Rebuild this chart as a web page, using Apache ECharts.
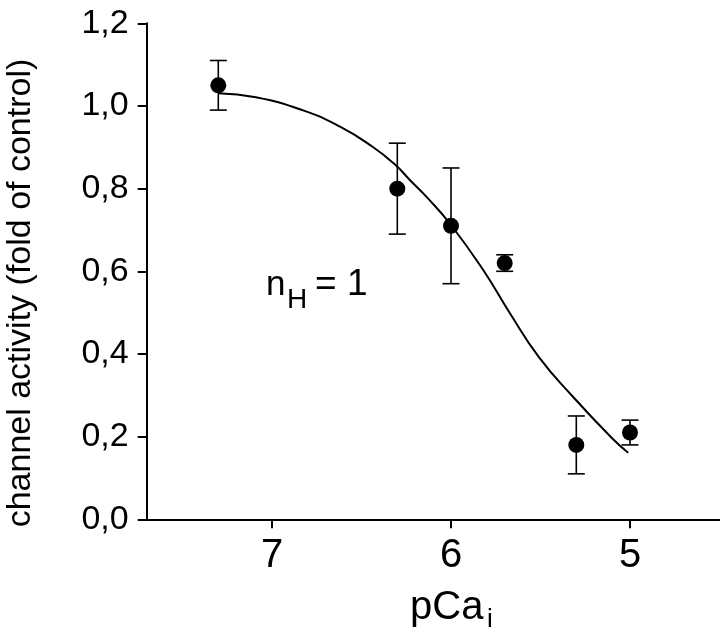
<!DOCTYPE html>
<html>
<head>
<meta charset="utf-8">
<script src="https://cdn.jsdelivr.net/npm/echarts@6/dist/echarts.min.js"></script>
<style>
html,body{margin:0;padding:0;background:#fff;}
#chart{width:720px;height:636px;}
</style>
</head>
<body>
<div id="chart"></div>
<script>
// Measured data points (pCa_i, channel activity, error bar low/high)
const pCa = [7.3, 6.3, 6.0, 5.7, 5.3, 5.0];
const activity = [1.05, 0.80, 0.71, 0.62, 0.18, 0.21];
const errLow = [0.99, 0.69, 0.57, 0.60, 0.11, 0.18];
const errHigh = [1.11, 0.91, 0.85, 0.64, 0.25, 0.24];

// Fitted curve (nH = 1)
const fitX = [7.30, 7.09, 6.83, 6.62, 6.44, 6.31, 6.23, 6.13, 6.00, 5.82, 5.67, 5.51, 5.32, 5.10, 5.01];
const fitY = [1.031, 1.021, 0.990, 0.950, 0.902, 0.857, 0.821, 0.777, 0.712, 0.603, 0.498, 0.393, 0.297, 0.196, 0.161];

// Tick labels
const xTicks = [7, 6, 5];
const yTicks = [0, 0.2, 0.4, 0.6, 0.8, 1.0, 1.2];

const FONT = '"Liberation Sans", Arial, Helvetica, sans-serif';

const chart = echarts.init(document.getElementById('chart'), null, {renderer: 'canvas'});

const pointData = pCa.map((x, i) => [x, activity[i]]);
const errData = pCa.map((x, i) => [x, errLow[i], errHigh[i]]);
const fitData = fitX.map((x, i) => [x, fitY[i]]);

const option = {
  backgroundColor: '#ffffff',
  animation: false,
  grid: {left: 146.7, right: 0.5, top: 23.3, bottom: 116.7},
  xAxis: {
    type: 'value',
    inverse: true,
    min: 4.5,
    max: 7.7,
    splitLine: {show: false},
    axisLine: {show: true, onZero: false, lineStyle: {color: '#000', width: 2}},
    axisTick: {show: true, inside: false, length: 9, lineStyle: {color: '#000', width: 2}, customValues: xTicks},
    axisLabel: {
      show: true, margin: 17, color: '#000', fontSize: 40, fontFamily: FONT,
      customValues: xTicks,
      formatter: v => String(v)
    }
  },
  yAxis: {
    type: 'value',
    min: 0,
    max: 1.2,
    interval: 0.2,
    splitLine: {show: false},
    axisLine: {show: true, onZero: false, lineStyle: {color: '#000', width: 2}},
    axisTick: {show: true, inside: false, length: 9, lineStyle: {color: '#000', width: 2}},
    axisLabel: {
      show: true, margin: 18, color: '#000', fontSize: 34, fontFamily: FONT,
      customValues: yTicks,
      formatter: v => v.toFixed(1).replace('.', ',')
    }
  },
  series: [
    {
      type: 'custom',
      name: 'error',
      data: errData,
      encode: {x: 0, y: [1, 2]},
      z: 2,
      renderItem: function (params, api) {
        const x = api.value(0);
        const lo = api.coord([x, api.value(1)]);
        const hi = api.coord([x, api.value(2)]);
        const hw = 8.5;
        const style = {stroke: '#000', lineWidth: 1.6};
        return {
          type: 'group',
          children: [
            {type: 'line', shape: {x1: lo[0], y1: lo[1], x2: hi[0], y2: hi[1]}, style: style},
            {type: 'line', shape: {x1: lo[0] - hw, y1: lo[1], x2: lo[0] + hw, y2: lo[1]}, style: style},
            {type: 'line', shape: {x1: hi[0] - hw, y1: hi[1], x2: hi[0] + hw, y2: hi[1]}, style: style}
          ]
        };
      }
    },
    {
      type: 'line',
      name: 'fit',
      data: fitData,
      smooth: 0.5,
      showSymbol: false,
      symbol: 'none',
      lineStyle: {color: '#000', width: 2},
      z: 3
    },
    {
      type: 'scatter',
      name: 'data',
      data: pointData,
      symbol: 'circle',
      symbolSize: 16,
      itemStyle: {color: '#000', opacity: 1},
      z: 4
    }
  ],
  graphic: [
    {
      type: 'text',
      x: 21, y: 293,
      rotation: Math.PI / 2,
      style: {
        text: 'channel activity (fold of control)',
        font: '34px ' + FONT,
        fill: '#000',
        align: 'center',
        verticalAlign: 'middle'
      }
    },
    {
      type: 'text', x: 410, y: 608,
      style: {text: 'pCa', font: '40px ' + FONT, fill: '#000', align: 'left', verticalAlign: 'middle'}
    },
    {
      type: 'text', x: 487, y: 620,
      style: {text: 'i', font: '26px ' + FONT, fill: '#000', align: 'left', verticalAlign: 'middle'}
    },
    {
      type: 'text', x: 266, y: 285,
      style: {text: 'n', font: '35px ' + FONT, fill: '#000', align: 'left', verticalAlign: 'middle'}
    },
    {
      type: 'text', x: 287, y: 300,
      style: {text: 'H', font: '28px ' + FONT, fill: '#000', align: 'left', verticalAlign: 'middle'}
    },
    {
      type: 'text', x: 315, y: 285,
      style: {text: '= 1', font: '37px ' + FONT, fill: '#000', align: 'left', verticalAlign: 'middle'}
    }
  ]
};

chart.setOption(option);
</script>
</body>
</html>
